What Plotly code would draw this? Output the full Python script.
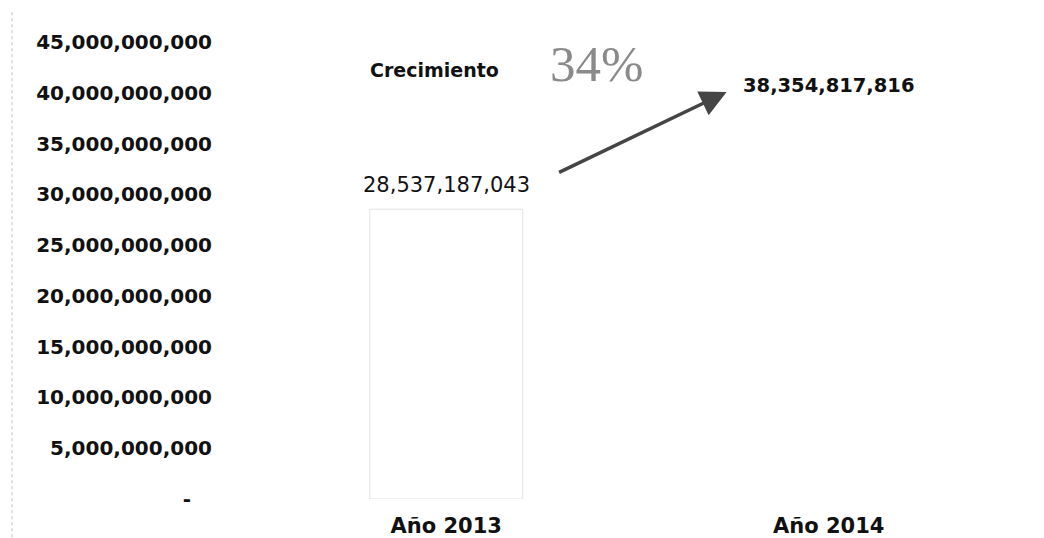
import plotly.graph_objects as go

categories = ["Año 2013", "Año 2014"]
values = [28537187043, 38354817816]
value_labels = ["28,537,187,043", "38,354,817,816"]
tick_values = [0, 5e9, 10e9, 15e9, 20e9, 25e9, 30e9, 35e9, 40e9, 45e9]
tick_labels = ["-\u00a0\u00a0\u00a0", "5,000,000,000", "10,000,000,000", "15,000,000,000",
               "20,000,000,000", "25,000,000,000", "30,000,000,000", "35,000,000,000",
               "40,000,000,000", "45,000,000,000"]
growth_label = "Crecimiento"
growth_pct = "34%"

fig = go.Figure()
fig.add_trace(go.Bar(
    x=categories,
    y=values,
    width=0.4,
    marker=dict(color="white", line=dict(color=["#e2e2e2", "rgba(0,0,0,0)"], width=1)),
    cliponaxis=False,
    showlegend=False,
    hoverinfo="x+y",
))

# value labels above the bars
label_weights = ["normal", "bold"]
label_sizes = [21, 19.5]
for cat, val, txt, w, s in zip(categories, values, value_labels, label_weights, label_sizes):
    fig.add_annotation(x=cat, y=val, xref="x", yref="y", text=txt, showarrow=False,
                       yshift=24, font=dict(family="DejaVu Sans", size=s, color="#111", weight=w))

# growth arrow and labels
fig.add_annotation(x=0.733, y=40.07e9, xref="x", yref="y", ax=-169, ay=81,
                   showarrow=True, arrowhead=2, arrowsize=1.5, arrowwidth=3.5,
                   arrowcolor="#454545", text="")
fig.add_annotation(x=-0.031, y=42.24e9, xref="x", yref="y", text=growth_label,
                   showarrow=False,
                   font=dict(family="DejaVu Sans", size=19, color="#111", weight="bold"))
fig.add_annotation(x=0.393, y=42.83e9, xref="x", yref="y", text=growth_pct,
                   showarrow=False,
                   font=dict(family="Liberation Serif", size=51, color="#8a8a8a"))

# faint dotted left border of the scan
fig.add_shape(type="line", xref="paper", yref="paper", x0=-0.3176, x1=-0.3176,
              y0=-0.11, y1=1.07, line=dict(color="#bdbdbd", width=1, dash="dot"))

fig.update_layout(
    width=1044, height=538,
    margin=dict(l=247, r=32, t=34, b=47),
    paper_bgcolor="white", plot_bgcolor="white",
    bargap=0.6,
)
fig.update_xaxes(showgrid=False, zeroline=False, showline=False, ticks="",
                 automargin=False,
                 tickfont=dict(family="DejaVu Sans", size=21, color="#111", weight="bold"),
                 ticklabelstandoff=12)
fig.update_yaxes(range=[0, 45e9], tickvals=tick_values, ticktext=tick_labels,
                 automargin=False,
                 showgrid=False, zeroline=False, showline=False, ticks="",
                 tickfont=dict(family="DejaVu Sans", size=20, color="#111", weight="bold"),
                 ticklabelstandoff=42)

fig.write_html("out.html")
